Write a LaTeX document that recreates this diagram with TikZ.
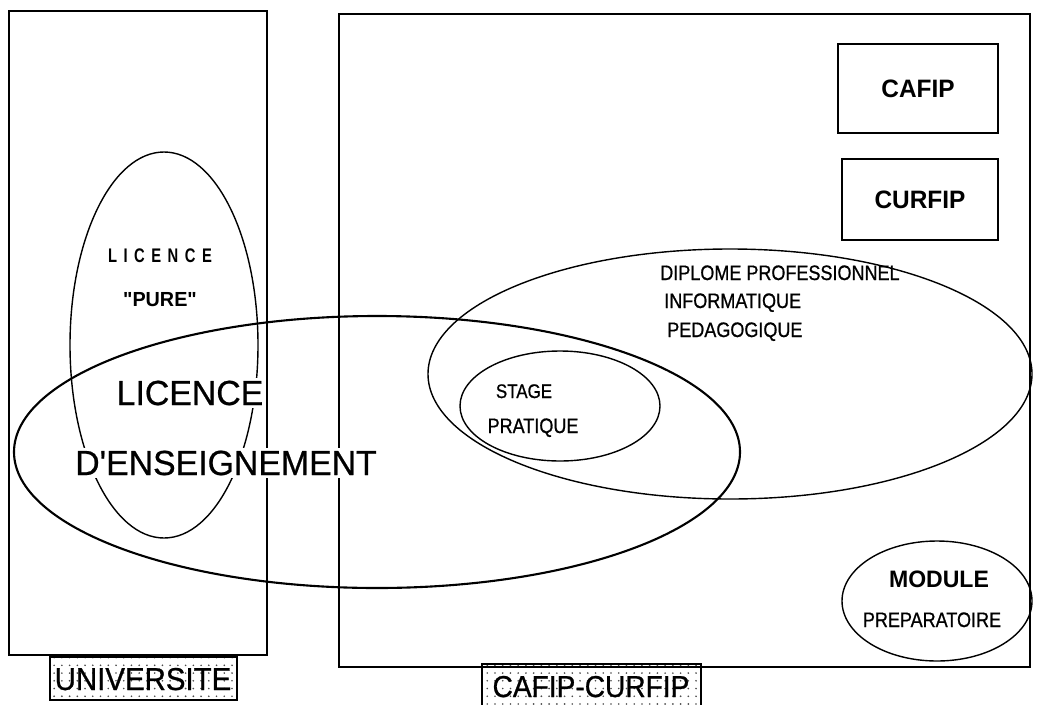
\documentclass[tikz,border=0pt]{standalone}
\usepackage{fontspec}
\setmainfont{Liberation Sans}
\newfontfamily\bigf{Liberation Sans}[FakeStretch=0.97,FakeBold=0.6]
\newfontfamily\smallf{Liberation Sans}[FakeStretch=0.86,FakeBold=0.8]
\newfontfamily\boldf{Liberation Sans Bold}[FakeStretch=0.97]
\newfontfamily\spacedf{Liberation Sans Bold}[FakeStretch=0.75,LetterSpace=33]
\newfontfamily\labf{Liberation Sans}[FakeStretch=0.93,FakeBold=0.8]
\usetikzlibrary{patterns.meta}
\begin{document}
\begin{tikzpicture}[x=0.025cm, y=-0.025cm,
  frame/.style={draw, line width=1.2pt},
  oval/.style={draw, line width=1pt},
  thickoval/.style={draw, line width=1.5pt},
  bigtxt/.style={font=\bigf\fontsize{24.8}{26}\selectfont, fill=white, inner sep=2pt, anchor=base},
  smalltxt/.style={font=\smallf\fontsize{14.9}{16}\selectfont, inner sep=0pt},
  boldtxt/.style={font=\boldf\fontsize{17.9}{19}\selectfont, inner sep=0pt},
  boxnode/.style={draw, line width=1.2pt, inner sep=0pt},
  dotlabel/.style={draw, line width=1.2pt, pattern={Dots[distance=5.5pt, radius=0.65pt]}, pattern color=black!70},
  labtxt/.style={font=\labf\fontsize{22.5}{24}\selectfont, inner sep=0pt, anchor=base}
]
\useasboundingbox (0,0) rectangle (1038,704);

% main frames
\draw[frame] (9,11) rectangle (267,655);
\draw[frame] (339,14) rectangle (1030,667);

% label boxes
\draw[dotlabel] (50,657) rectangle (237,700);
\draw[dotlabel] (482,664) rectangle (701,710);
\node[labtxt] (univ) at (143,690) {UNIVERSITE};
\node[labtxt, font=\labf\fontsize{21.5}{23}\selectfont] (cafcur) at (591,697) {CAFIP-CURFIP};

% boxes CAFIP / CURFIP
\node[boxnode, minimum width=4cm, minimum height=2.225cm, font=\boldf\fontsize{17.9}{19}\selectfont] (cafip) at (918,88.5) {CAFIP};
\node[boxnode, minimum width=3.9cm, minimum height=2.025cm, font=\boldf\fontsize{17.9}{19}\selectfont] (curfip) at (920,199.5) {CURFIP};

% ellipses
\coordinate (cPure) at (164,345);
\coordinate (cBig) at (377,452);
\coordinate (cDip) at (730,374);
\coordinate (cStage) at (560,406);
\coordinate (cMod) at (937,601);
\draw[oval] (cPure) ellipse (94 and 193);
\draw[thickoval] (cBig) ellipse (363 and 136);
\draw[oval] (cDip) ellipse (302 and 125);
\draw[oval] (cStage) ellipse (100 and 55);
\draw[oval] (cMod) ellipse (95 and 60);

% texts
\node[font=\spacedf\fontsize{14}{15}\selectfont, inner sep=0pt, anchor=base] (licp) at (160,262) {LICENCE};
\node[font=\boldf\fontsize{14.5}{15}\selectfont, inner sep=0pt, anchor=base] (pure) at (160,306) {"PURE"};
\node[bigtxt] (lic) at (190,405) {LICENCE};
\node[bigtxt] (ens) at (226,475) {D'ENSEIGNEMENT};
\node[smalltxt, anchor=base west] (dip1) at (660,280) {DIPLOME PROFESSIONNEL};
\node[smalltxt, anchor=base west] (dip2) at (664,308) {INFORMATIQUE};
\node[smalltxt, anchor=base west] (dip3) at (667,337) {PEDAGOGIQUE};
\node[smalltxt, anchor=base, font=\smallf\fontsize{14}{15}\selectfont] (st1) at (524,398) {STAGE};
\node[smalltxt, anchor=base] (st2) at (533,433) {PRATIQUE};
\node[boldtxt, anchor=base, font=\boldf\fontsize{16.9}{18}\selectfont] (mod1) at (939,587) {MODULE};
\node[smalltxt, anchor=base] (mod2) at (932,627) {PREPARATOIRE};
\end{tikzpicture}
\end{document}
